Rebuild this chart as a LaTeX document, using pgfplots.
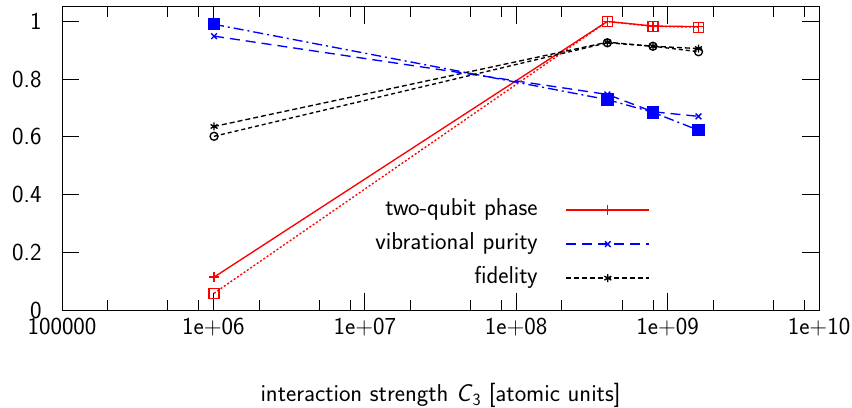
\documentclass[border=0pt]{standalone}
\usepackage{fontspec}
\usepackage{pgfplots}
\pgfplotsset{compat=1.18}
\renewcommand{\familydefault}{\sfdefault}
\begin{document}
\begin{tikzpicture}
\begin{axis}[
  scale only axis, width=757bp, height=303bp,
  xmode=log, log basis x=10,
  xmin=1e5, xmax=1e10, ymin=0, ymax=1.05,
  xtick={1e5,1e6,1e7,1e8,1e9,1e10},
  xticklabels={100000,1e+06,1e+07,1e+08,1e+09,1e+10},
  minor xtick={2e5,5e5,8e5,2e6,5e6,8e6,2e7,5e7,8e7,2e8,5e8,8e8,2e9,5e9,8e9},
  ytick={0,0.2,0.4,0.6,0.8,1},
  yticklabels={0,0.2,0.4,0.6,0.8,1},
  tick pos=both, tick align=inside,
  major tick length=17bp, minor tick length=10bp,
  tick style={black, line width=0.8bp},
  axis line style={line width=1bp},
  font=\fontsize{24.5}{29}\selectfont,
  xticklabel style={yshift=-5bp},
  yticklabel style={xshift=-17bp},
  xlabel={interaction strength \textit{C}\textsubscript{3} [atomic units]},
  xlabel style={yshift=-40bp},
  legend style={draw=none, fill=none, inner sep=0pt, at={(0.777,0.360)}, anchor=north east,
    row sep=16bp, column sep=28bp,
    nodes={inner sep=0pt, text height=14bp, text depth=4bp}},
  legend cell align=right,
  legend plot pos=right,
  legend image code/.code={\draw[mark repeat=2,mark phase=2] plot coordinates {(0bp,0bp) (41.5bp,0bp) (83bp,0bp)};},
  every axis plot/.append style={line width=1.35bp},
]
\addplot[red, mark=+, mark size=5bp, mark options={solid}]
coordinates {(1.01e6,0.114) (4e8,1.0) (8e8,0.984) (1.6e9,0.982)};
\addlegendentry{two-qubit phase}
\addplot[blue, dash pattern=on 10bp off 6bp, mark=x, mark size=4bp, mark options={solid}]
coordinates {(1.01e6,0.949) (4e8,0.747) (8e8,0.687) (1.6e9,0.671)};
\addlegendentry{vibrational purity}
\addplot[black, dash pattern=on 5bp off 3bp, mark=asterisk, mark size=4bp, mark options={solid}]
coordinates {(1.01e6,0.636) (4e8,0.928) (8e8,0.914) (1.6e9,0.906)};
\addlegendentry{fidelity}
\addplot[red, dash pattern=on 2bp off 2bp, mark=square, mark size=5bp, mark options={solid}, forget plot]
coordinates {(1.01e6,0.058) (4e8,1.0) (8e8,0.983) (1.6e9,0.980)};
\addplot[blue, dash pattern=on 10bp off 4bp on 2bp off 4bp, mark=square*, mark size=5.5bp, mark options={solid}, forget plot]
coordinates {(1.01e6,0.990) (4e8,0.729) (8e8,0.685) (1.6e9,0.623)};
\addplot[black, dash pattern=on 4bp off 3bp, mark=o, mark size=4bp, mark options={solid}, forget plot]
coordinates {(1.01e6,0.602) (4e8,0.926) (8e8,0.914) (1.6e9,0.895)};
\end{axis}
\pgfresetboundingbox
\path[use as bounding box] ([xshift=-62bp,yshift=-98bp]current axis.south west) rectangle ([xshift=33bp,yshift=7bp]current axis.north east);
\end{tikzpicture}
\end{document}
